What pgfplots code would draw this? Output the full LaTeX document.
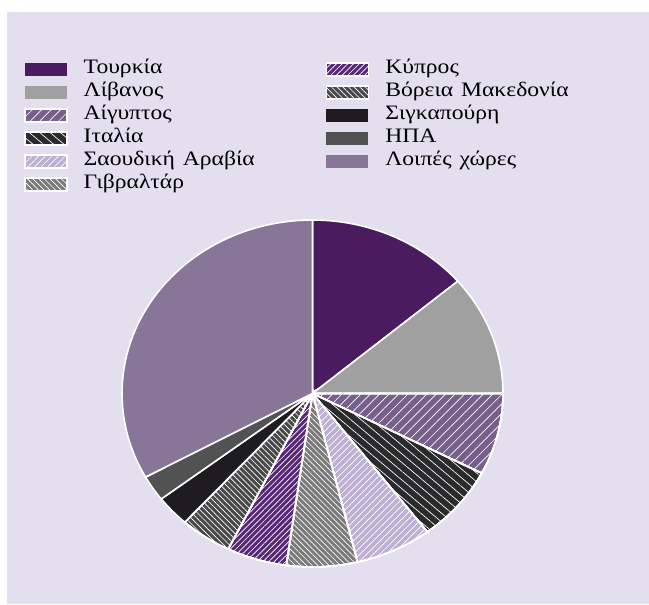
\documentclass[border=0pt]{standalone}
\usepackage{fontspec}
\setmainfont{Liberation Serif}
\usepackage{graphicx}
\usepackage{pgfplots}
\usepackage{pgfplotstable}
\pgfplotsset{compat=1.18}
\usetikzlibrary{patterns.meta}

\definecolor{bg}{RGB}{227,223,238}
\definecolor{cTur}{RGB}{74,27,94}
\definecolor{cLib}{RGB}{160,160,160}
\definecolor{cEgy}{RGB}{118,95,138}
\definecolor{cIta}{RGB}{42,42,44}
\definecolor{cSau}{RGB}{190,176,210}
\definecolor{cGib}{RGB}{122,122,122}
\definecolor{cCyp}{RGB}{88,40,118}
\definecolor{cMak}{RGB}{72,72,72}
\definecolor{cSin}{RGB}{30,28,32}
\definecolor{cUSA}{RGB}{82,82,82}
\definecolor{cOth}{RGB}{135,118,152}

% share of each country (%), clockwise from the top
\pgfplotstableread{
idx value
0 13.8
1 11.2
2 7.6
3 7.1
4 6.5
5 6.0
6 5.1
7 4.4
8 2.9
9 2.4
10 33.0
}\piedata

\def\cum{0}
\pgfplotsforeachungrouped \i in {0,...,10}{%
  \pgfplotstablegetelem{\i}{value}\of\piedata
  \pgfmathsetmacro\nxt{\cum+3.6*\pgfplotsretval}%
  \expandafter\let\csname s\i\endcsname\cum
  \expandafter\let\csname e\i\endcsname\nxt
  \let\cum\nxt
}

\newcommand\lt[1]{\scalebox{1.15}[1]{#1}}

\pgfplotsset{
  slice/.style={domain=\csname s#1\endcsname:\csname e#1\endcsname, samples=60, variable=\t, draw=white, line width=1.2pt},
  hatch/.style n args={3}{preaction={fill=#1}, preaction={pattern={Lines[angle=#2,distance=#3,line width=0.5pt]}, pattern color=white}},
}

\begin{document}
\begin{tikzpicture}
\path[use as bounding box] (0,0) rectangle (486.75pt,453pt);
\fill[bg] (5.25pt,0pt) rectangle (486.75pt,444pt);
\begin{axis}[
  scale only axis, width=285.75pt, height=260.25pt,
  xmin=-1, xmax=1, ymin=-1, ymax=1,
  hide axis, clip=false,
  at={(234.375pt,157.875pt)}, anchor=origin,
  legend columns=6, transpose legend,
  legend cell align=left,
  legend style={draw=none, fill=none, at={(-0.257,1.467)}, anchor=north west,
    inner sep=0pt, outer sep=0pt, font=\fontsize{15.4}{17}\selectfont,
    nodes={text width=181.5pt, inner xsep=0pt, inner ysep=0pt, text height=11.5pt, text depth=5.75pt, align=left},
    /tikz/every odd column/.append style={column sep=12pt},
    /tikz/every even column/.append style={column sep=0pt}},
  legend image code/.code={\path[#1,draw=none] (0pt,-4.875pt) rectangle (31.5pt,4.875pt);},
]
\addplot[slice=0, fill=cTur] ({sin(\t)},{cos(\t)}) -- (axis cs:0,0) -- cycle;
\addplot[slice=1, fill=cLib] ({sin(\t)},{cos(\t)}) -- (axis cs:0,0) -- cycle;
\addplot[slice=2, hatch={cEgy}{45}{5pt}] ({sin(\t)},{cos(\t)}) -- (axis cs:0,0) -- cycle;
\addplot[slice=3, hatch={cIta}{-40}{5pt}] ({sin(\t)},{cos(\t)}) -- (axis cs:0,0) -- cycle;
\addplot[slice=4, hatch={cSau}{45}{3.5pt}] ({sin(\t)},{cos(\t)}) -- (axis cs:0,0) -- cycle;
\addplot[slice=5, hatch={cGib}{-45}{3pt}] ({sin(\t)},{cos(\t)}) -- (axis cs:0,0) -- cycle;
\addplot[slice=6, hatch={cCyp}{45}{3pt}] ({sin(\t)},{cos(\t)}) -- (axis cs:0,0) -- cycle;
\addplot[slice=7, hatch={cMak}{-45}{3pt}] ({sin(\t)},{cos(\t)}) -- (axis cs:0,0) -- cycle;
\addplot[slice=8, fill=cSin] ({sin(\t)},{cos(\t)}) -- (axis cs:0,0) -- cycle;
\addplot[slice=9, fill=cUSA] ({sin(\t)},{cos(\t)}) -- (axis cs:0,0) -- cycle;
\addplot[slice=10, fill=cOth] ({sin(\t)},{cos(\t)}) -- (axis cs:0,0) -- cycle;
\legend{\lt{Τουρκία}, \lt{Λίβανος}, \lt{Αίγυπτος}, \lt{Ιταλία}, \lt{Σαουδική Αραβία}, \lt{Γιβραλτάρ}, \lt{Κύπρος}, \lt{Βόρεια Μακεδονία}, \lt{Σιγκαπούρη}, \lt{ΗΠΑ}, \lt{Λοιπές χώρες}}
\end{axis}
\end{tikzpicture}
\end{document}
